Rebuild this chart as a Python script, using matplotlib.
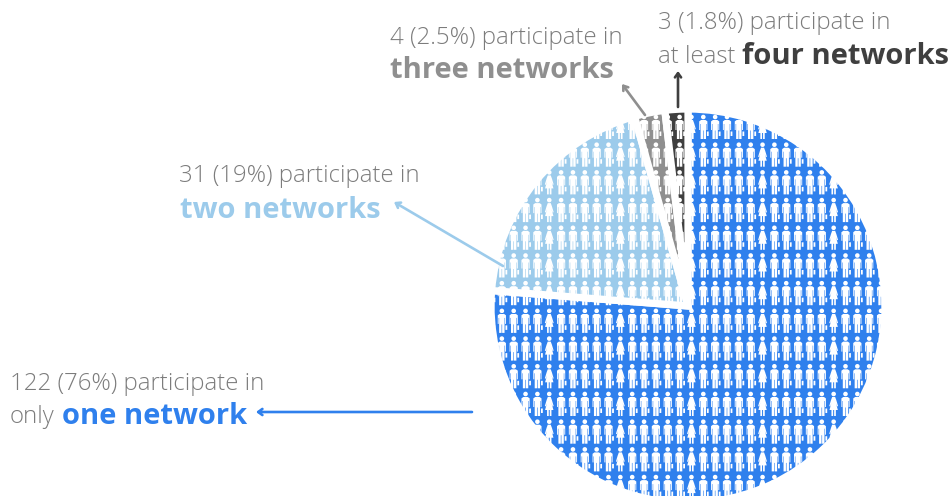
import numpy as np
import matplotlib
matplotlib.use("Agg")
import matplotlib.pyplot as plt
from matplotlib.path import Path
from matplotlib.patches import PathPatch, Circle

counts = [122, 31, 4, 3]
colors = ["#2f80ed", "#9ccbeb", "#8f8f8f", "#3f3f3f"]
line1 = ["122 (76%) participate in", "31 (19%) participate in",
         "4 (2.5%) participate in", "3 (1.8%) participate in"]
prefix = ["only", "", "", "at least"]
bold = ["one network", "two networks", "three networks", "four networks"]

H = 496
plt.rcParams["font.family"] = ["Open Sans", "DejaVu Sans"]

fig = plt.figure(figsize=(9.5, 4.96), dpi=100)
ax = fig.add_axes([0, 0, 1, 1])

cx, cy, r = 688, H - 306, 197
wedges, _ = ax.pie(counts, colors=colors, startangle=90, counterclock=False,
                   center=(cx, cy), radius=r,
                   wedgeprops=dict(edgecolor="white", linewidth=5.2))
ax.set_xlim(0, 950)
ax.set_ylim(0, H)
ax.set_aspect("equal")
ax.axis("off")


def person(x0, y0, woman=False):
    head = Path.circle((x0, H - y0), 2.3)
    if woman:
        b = [(-1.5, 3), (1.5, 3), (2.6, 6), (4.4, 12), (3.5, 12.5), (2.2, 9), (4.2, 16), (2.2, 16),
             (2.2, 22), (0.5, 22), (0.5, 16), (-0.5, 16), (-0.5, 22), (-2.2, 22), (-2.2, 16), (-4.2, 16),
             (-2.2, 9), (-3.5, 12.5), (-4.4, 12), (-2.6, 6)]
        parts = [b]
    else:
        b = [(-2.2, 3), (2.2, 3), (4.1, 4.4), (4.1, 13), (3.2, 13), (3.2, 7), (2.7, 7), (2.7, 22),
             (0.3, 22), (0.3, 13.5), (-0.3, 13.5), (-0.3, 22), (-2.7, 22), (-2.7, 7), (-3.2, 7),
             (-3.2, 13), (-4.1, 13), (-4.1, 4.4)]
        case = [(3.6, 14.5), (5.4, 14.5), (5.4, 19), (3.6, 19)]
        parts = [b, case]
    paths = [head]
    for p in parts:
        p = np.array(p + [p[0]], float)
        p[:, 0] += x0
        p[:, 1] = H - (y0 + p[:, 1])
        paths.append(Path(p, closed=True))
    return paths


# white figures tiled over the pie
paths = []
for row, yy in enumerate(np.arange(117, 500, 27.7)):
    for col, xx in enumerate(np.arange(490, 890, 11.85)):
        paths += person(xx, yy, woman=(col % 6 == 5))
people = PathPatch(Path.make_compound_path(*paths), fc="white", ec="none", zorder=3)
ax.add_patch(people)
people.set_clip_path(Circle((cx, cy), r, transform=ax.transData))


def arrow(x0, y0, x1, y1, c):
    ax.annotate("", xy=(x1, H - y1), xytext=(x0, H - y0), zorder=4,
                arrowprops=dict(arrowstyle="->,head_width=0.22,head_length=0.3", color=c, lw=1.9,
                                shrinkA=0, shrinkB=0))


arrow(472, 412, 256, 412, colors[0])
arrow(503, 266, 394, 202, colors[1])
arrow(645, 115, 622, 84, colors[2])
arrow(678, 107, 678, 71, colors[3])

thin = dict(fontsize=17.3, color="#7c7c7c", fontweight="light", va="center", ha="left")
heavy = dict(fontsize=21, fontweight="bold", va="center", ha="left")

ax.text(10, H - 384, line1[0], **thin)
ax.text(10, H - 417, prefix[0], **thin)
ax.text(62, H - 417, bold[0], color=colors[0], **heavy)

ax.text(179, H - 176, line1[1], **thin)
ax.text(180, H - 210, bold[1], color=colors[1], **heavy)

ax.text(390, H - 38, line1[2], **thin)
ax.text(390, H - 71, bold[2], color=colors[2], **heavy)

ax.text(658, H - 23, line1[3], **thin)
ax.text(658, H - 57, prefix[3], **thin)
ax.text(742, H - 56, bold[3], color=colors[3], **heavy)

fig.savefig("out.png", dpi=100)
